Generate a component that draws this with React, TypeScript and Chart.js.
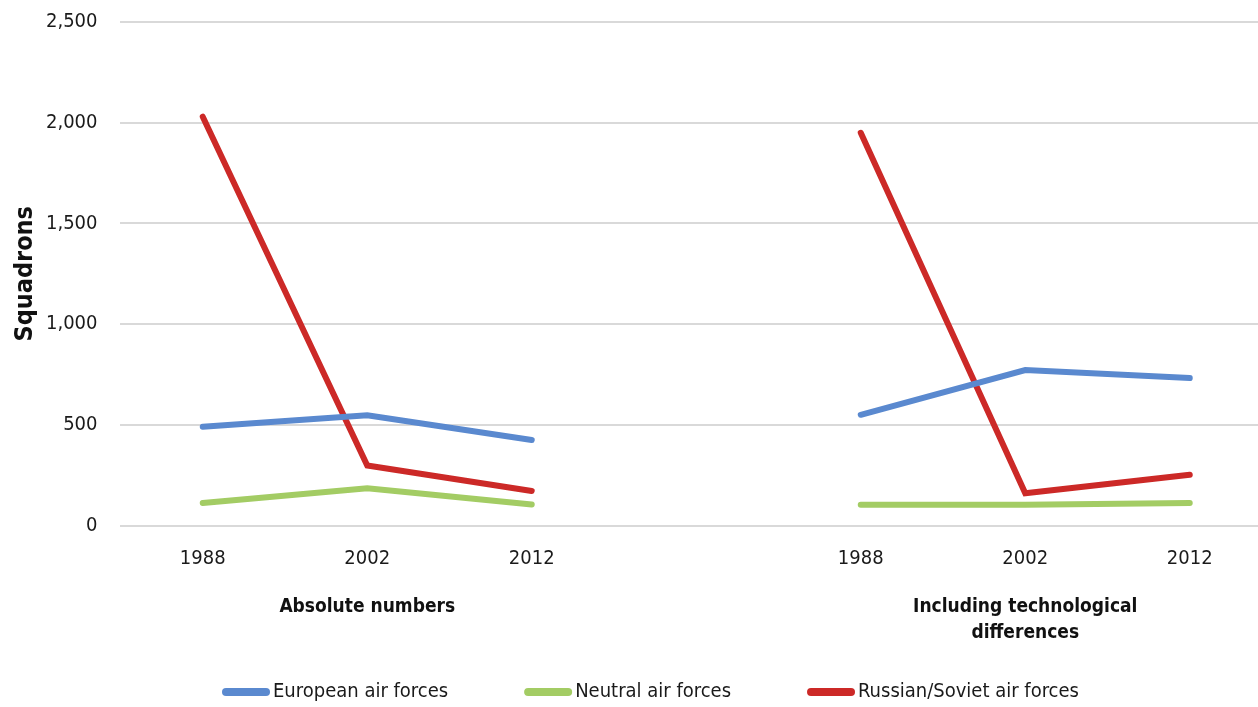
import React, { useEffect, useRef } from "react";
import { Chart, registerables } from "chart.js";

Chart.register(...registerables);

const years = ["1988", "2002", "2012", "", "1988", "2002", "2012"];
const groupLabels: (string | string[])[] = ["", "Absolute numbers", "", "", "", ["Including technological", "differences"], ""];
const european = [490, 548, 425, null, 550, 772, 732];
const neutral = [112, 185, 105, null, 103, 103, 112];
const russian = [2030, 298, 172, null, 1950, 160, 252];
const seriesNames = ["European air forces", "Neutral air forces", "Russian/Soviet air forces"];
const seriesColors = ["#5a89cf", "#a3cc64", "#cc2927"];

const FONT = "'DejaVu Sans Condensed', 'Liberation Sans Narrow', sans-serif";

const legendPlugin = {
  id: "customLegend",
  afterDraw(chart: any) {
    const ctx = chart.ctx as CanvasRenderingContext2D;
    ctx.save();
    ctx.font = `20px ${FONT}`;
    ctx.textBaseline = "middle";
    const y = 692;
    let x = 222;
    chart.data.datasets.forEach((ds: any) => {
      ctx.strokeStyle = ds.borderColor;
      ctx.lineWidth = 8;
      ctx.lineCap = "round";
      ctx.beginPath();
      ctx.moveTo(x + 4, y);
      ctx.lineTo(x + 44, y);
      ctx.stroke();
      ctx.fillStyle = "#1a1a1a";
      ctx.fillText(ds.label, x + 51, y);
      x += 51 + ctx.measureText(ds.label).width + 76;
    });
    ctx.restore();
  },
};

export default function App() {
  const ref = useRef<HTMLCanvasElement | null>(null);
  useEffect(() => {
    if (!ref.current) return;
    const chart = new Chart(ref.current, {
      type: "line",
      data: {
        labels: years,
        datasets: [
          { label: seriesNames[0], data: european, borderColor: seriesColors[0], backgroundColor: seriesColors[0], borderWidth: 6, pointRadius: 0, borderCapStyle: "round", spanGaps: false },
          { label: seriesNames[1], data: neutral, borderColor: seriesColors[1], backgroundColor: seriesColors[1], borderWidth: 6, pointRadius: 0, borderCapStyle: "round", spanGaps: false },
          { label: seriesNames[2], data: russian, borderColor: seriesColors[2], backgroundColor: seriesColors[2], borderWidth: 6, pointRadius: 0, borderCapStyle: "round", spanGaps: false },
        ],
      },
      options: {
        responsive: false,
        animation: false,
        layout: { padding: { left: 10, right: 2, top: 22, bottom: 59 } },
        plugins: {
          legend: { display: false },
          tooltip: { enabled: false },
        },
        scales: {
          x: {
            type: "category",
            offset: true,
            grid: { display: false, drawTicks: false },
            border: { display: false },
            ticks: { font: { family: FONT, size: 20 }, color: "#1a1a1a", padding: 21 },
          },
          x2: {
            type: "category",
            position: "bottom",
            labels: groupLabels,
            offset: true,
            grid: { display: false, drawTicks: false },
            border: { display: false },
            ticks: { font: { family: FONT, size: 19, weight: "bold", lineHeight: 1.38 }, color: "#111", padding: 2, autoSkip: false, maxRotation: 0 },
          },
          y: {
            min: 0,
            max: 2500,
            ticks: { stepSize: 500, font: { family: FONT, size: 20 }, color: "#1a1a1a", padding: 0 },
            grid: { color: "#d9d9d9", lineWidth: 2, drawTicks: true, tickLength: 23, tickColor: "rgba(0,0,0,0)" },
            border: { display: false },
            title: { display: true, text: "Squadrons", font: { family: FONT, size: 25, weight: "bold" }, color: "#111", padding: { top: 0, bottom: 6 } },
          },
        },
      },
      plugins: [legendPlugin],
    });
    return () => chart.destroy();
  }, []);
  return (
    <div style={{ position: "fixed", left: 0, top: 0, width: 1258, height: 707, overflow: "hidden", background: "#fff" }}>
      <canvas ref={ref} width={1274} height={707} />
    </div>
  );
}
